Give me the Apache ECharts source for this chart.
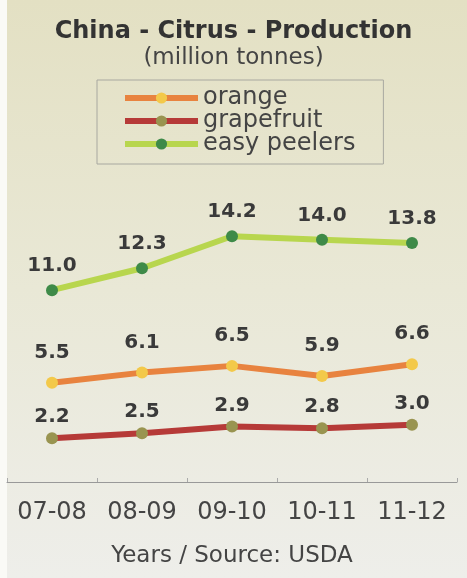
<!DOCTYPE html>
<html><head><meta charset="utf-8">
<script src="https://cdn.jsdelivr.net/npm/echarts@6/dist/echarts.min.js"></script>
<style>html,body{margin:0;padding:0;}#c{width:467px;height:578px;}</style>
</head><body><div id="c"></div>
<script>
const categories = ['07-08', '08-09', '09-10', '10-11', '11-12'];
const orange = [5.5, 6.1, 6.5, 5.9, 6.6];
const grapefruit = [2.2, 2.5, 2.9, 2.8, 3.0];
const easyPeelers = [11.0, 12.3, 14.2, 14.0, 13.8];

const F = 'DejaVu Sans';
function series(name, data, lineColor, dotColor, dist) {
  return {
    name, type: 'line', data,
    symbol: 'circle', symbolSize: 12,
    lineStyle: { color: lineColor, width: 6 },
    itemStyle: { color: dotColor },
    label: {
      show: true, position: 'top', distance: dist,
      formatter: p => p.value.toFixed(1),
      fontFamily: F, fontWeight: 'bold', fontSize: 20, color: '#3a3a3a'
    }
  };
}
const chart = echarts.init(document.getElementById('c'));
chart.setOption({
  backgroundColor: {
    type: 'linear', x: 0, y: 0, x2: 0, y2: 1,
    colorStops: [{ offset: 0, color: '#e3e0c3' }, { offset: 0.5, color: '#e9e8d6' }, { offset: 1, color: '#eeeeea' }]
  },
  graphic: [{ type: 'rect', left: 0, top: 0, shape: { width: 7, height: 578 }, style: { fill: '#fafaf6' } }],
  title: {
    text: 'China - Citrus - Production',
    subtext: '(million tonnes)',
    left: 'center', top: 15, itemGap: 3,
    textStyle: { fontFamily: F, fontWeight: 'bold', fontSize: 24, color: '#333' },
    subtextStyle: { fontFamily: F, fontSize: 23, color: '#444' }
  },
  legend: {
    orient: 'vertical', left: 97, top: 80,
    padding: [6, 28, 8, 25],
    borderColor: '#a8a8a0', borderWidth: 1,
    itemWidth: 73, itemHeight: 14, itemGap: -1,
    lineStyle: { width: 6 },
    textStyle: { fontFamily: F, fontSize: 24, color: '#444' },
    data: ['orange', 'grapefruit', 'easy peelers']
  },
  grid: { left: 7, right: 10, top: 206, bottom: 96 },
  xAxis: {
    type: 'category', data: categories,
    axisLine: { onZero: false, lineStyle: { color: '#999', width: 1 } },
    axisTick: { show: true, inside: true, length: 4, lineStyle: { color: '#aaa', width: 1 } },
    axisLabel: { interval: 0, fontFamily: F, fontSize: 24, color: '#444', margin: 19 },
    name: 'Years / Source: USDA', nameLocation: 'middle', nameGap: 63,
    nameTextStyle: { fontFamily: F, fontSize: 23, color: '#444' }
  },
  yAxis: { type: 'value', min: -0.4, max: 16, show: false, splitLine: { show: false } },
  series: [
    series('orange', orange, '#e8833f', '#f3c94a', 14),
    series('grapefruit', grapefruit, '#b63a38', '#999450', 5),
    series('easy peelers', easyPeelers, '#b8d64e', '#3e8a48', 8)
  ]
});
</script></body></html>
